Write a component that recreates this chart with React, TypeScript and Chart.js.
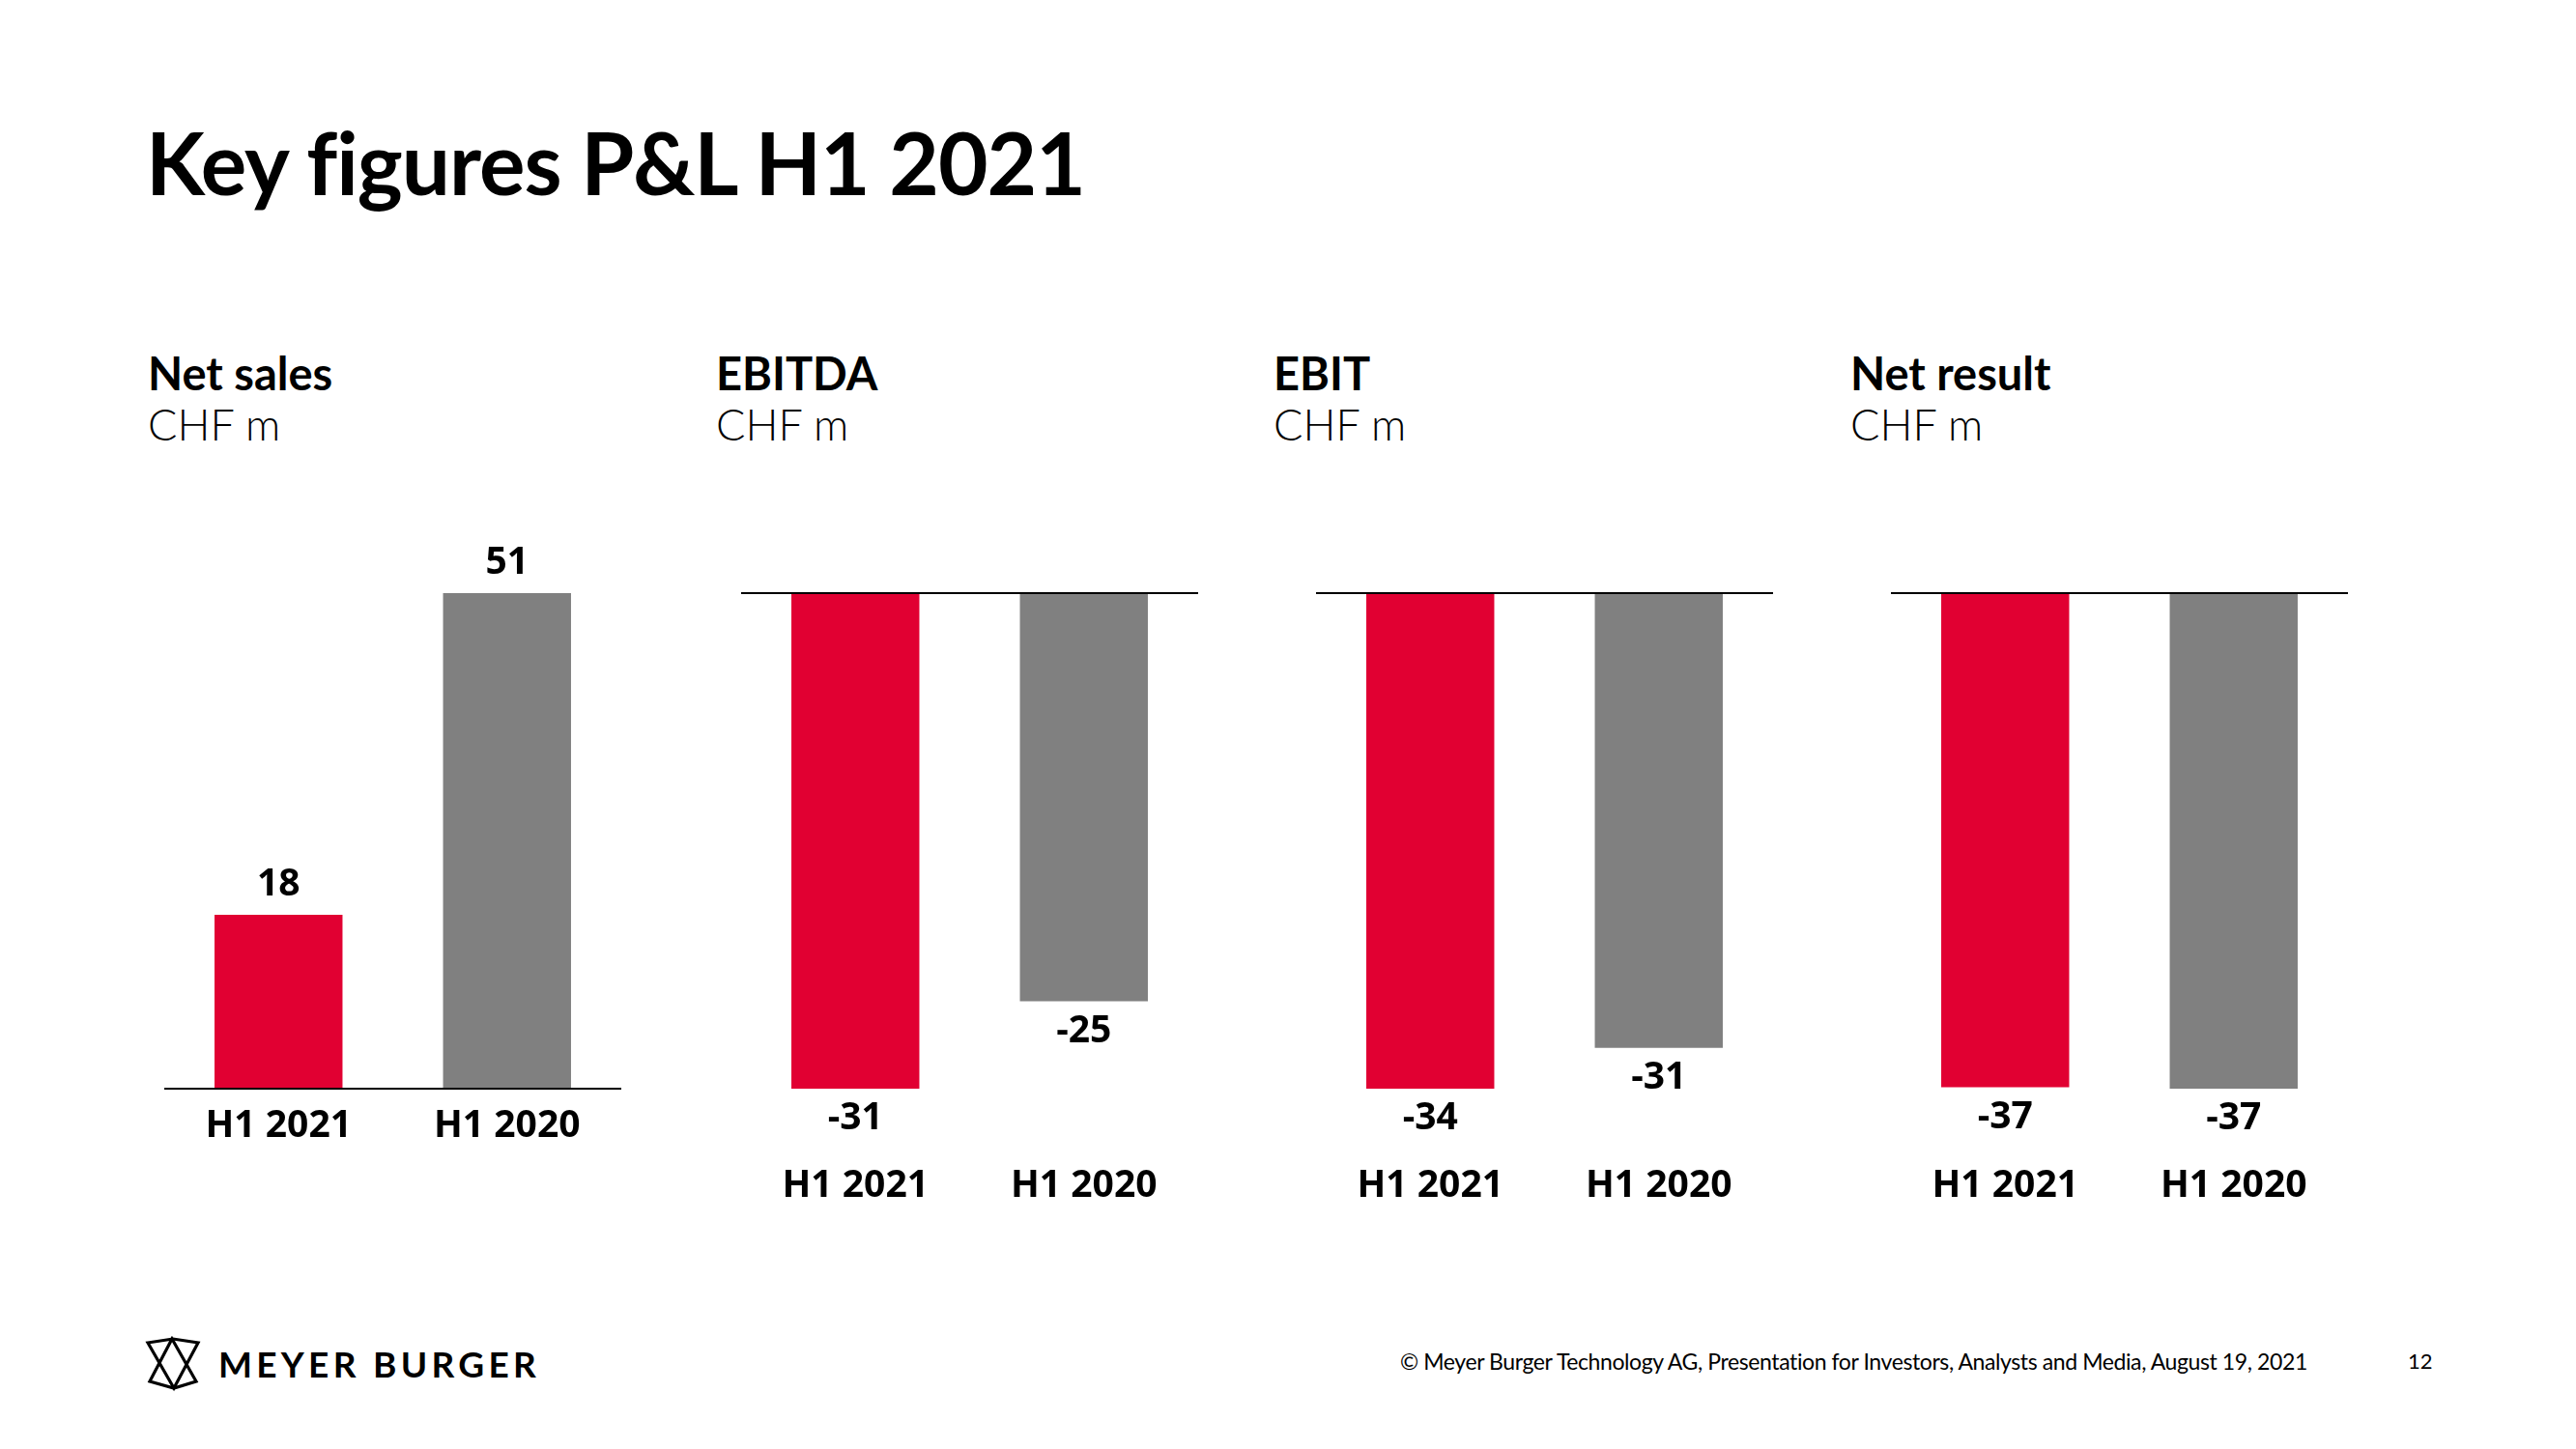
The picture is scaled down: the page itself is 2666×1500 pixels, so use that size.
import React, { useEffect, useRef } from "react";
import { Chart, registerables } from "chart.js";

Chart.register(...registerables);

// ---- Data ----
const categories = ["H1 2021", "H1 2020"];
const netSales = [17.9, 51.0];
const ebitda = [-30.6, -25.2];
const ebit = [-34.0, -31.2];
const netResult = [-36.9, -37.0];
const barColors = ["#E10032", "#808080"];

const pageTitle = "Key figures P&L H1 2021";
const panelTitles = ["Net sales", "EBITDA", "EBIT", "Net result"];
const unitLabel = "CHF m";
const footerText =
  "© Meyer Burger Technology AG, Presentation for Investors, Analysts and Media, August 19, 2021";
const pageNumber = "12";
const brandName = "MEYER BURGER";

const LABEL_FONT = "'Open Sans', 'DejaVu Sans', sans-serif";
const HEAD_FONT = "Lato, 'Open Sans', sans-serif";

const zeroLinePlugin = {
  id: "zeroLine",
  afterDatasetsDraw(chart: any) {
    const { ctx, chartArea } = chart;
    const y = chart.scales.y.getPixelForValue(0);
    ctx.save();
    ctx.strokeStyle = "#000000";
    ctx.lineWidth = 2;
    ctx.beginPath();
    ctx.moveTo(chartArea.left, y);
    ctx.lineTo(chartArea.right, y);
    ctx.stroke();
    ctx.restore();
  },
};

const valueLabelPlugin = {
  id: "valueLabels",
  afterDatasetsDraw(chart: any) {
    const ctx = chart.ctx;
    const meta = chart.getDatasetMeta(0);
    const vals = chart.data.datasets[0].data as number[];
    ctx.save();
    ctx.font = `700 39px ${LABEL_FONT}`;
    ctx.fillStyle = "#000000";
    ctx.textAlign = "center";
    ctx.textBaseline = "middle";
    meta.data.forEach((bar: any, i: number) => {
      const v = vals[i];
      const y = v >= 0 ? bar.y - 31 : bar.y + 31;
      ctx.fillText(String(Math.round(v)), bar.x, y);
    });
    ctx.restore();
  },
};

type PanelProps = {
  values: number[];
  left: number;
  tickGap: number;
};

function BarPanel({ values, left, tickGap }: PanelProps) {
  const ref = useRef<HTMLCanvasElement | null>(null);
  useEffect(() => {
    if (!ref.current) return;
    const minV = Math.min(0, ...values);
    const maxV = Math.max(0, ...values);
    const chart = new Chart(ref.current, {
      type: "bar",
      data: {
        labels: categories,
        datasets: [
          {
            data: values,
            backgroundColor: barColors,
            borderWidth: 0,
            barPercentage: 0.56,
            categoryPercentage: 1,
          },
        ],
      },
      options: {
        animation: false,
        responsive: false,
        maintainAspectRatio: false,
        layout: { padding: { top: 94, left: 0, right: 0, bottom: 0 } },
        plugins: {
          legend: { display: false },
          tooltip: { enabled: false },
          title: { display: false },
        },
        scales: {
          x: {
            position: "bottom",
            grid: { display: false, drawTicks: true, tickLength: tickGap },
            border: { display: false },
            ticks: {
              color: "#000000",
              padding: 15,
              font: { family: LABEL_FONT, size: 39, weight: "bold", lineHeight: 1.2 },
              maxRotation: 0,
            },
            afterFit: (scale: any) => {
              scale.height = 140;
            },
          },
          y: {
            display: false,
            min: minV,
            max: maxV,
          },
        },
      },
      plugins: [zeroLinePlugin, valueLabelPlugin],
    });
    return () => chart.destroy();
  }, [values, left, tickGap]);

  return (
    <canvas
      ref={ref}
      width={473}
      height={747}
      style={{ position: "absolute", left, top: 520, width: 473, height: 747 }}
    />
  );
}

function PanelHeader({ title, left }: { title: string; left: number }) {
  return (
    <>
      <div
        style={{
          position: "absolute",
          left,
          top: 363,
          fontFamily: HEAD_FONT,
          fontWeight: 700,
          fontSize: 47,
          lineHeight: 1,
          color: "#000",
          whiteSpace: "nowrap",
        }}
      >
        {title}
      </div>
      <div
        style={{
          position: "absolute",
          left,
          top: 417,
          fontFamily: HEAD_FONT,
          fontWeight: 300,
          fontSize: 45,
          lineHeight: 1,
          color: "#000",
          whiteSpace: "nowrap",
        }}
      >
        {unitLabel}
      </div>
    </>
  );
}

function Logo() {
  return (
    <svg
      width={60}
      height={58}
      viewBox="0 0 60 58"
      style={{ position: "absolute", left: 149, top: 1383 }}
    >
      <polygon points="4,7 30,3 56,7 31,54" fill="none" stroke="#000" strokeWidth={3.2} strokeLinejoin="miter" />
      <polygon points="6,47 29,3 54,47 31,54" fill="none" stroke="#000" strokeWidth={3.2} strokeLinejoin="miter" />
    </svg>
  );
}

export default function App() {
  const panelLefts = [170, 767, 1362, 1957];
  const headerLefts = [153, 741, 1318, 1915];
  const series = [netSales, ebitda, ebit, netResult];
  const gaps = [0, 62, 62, 62];
  return (
    <div
      style={{
        position: "absolute",
        left: 0,
        top: 0,
        width: 2666,
        height: 1500,
        background: "#ffffff",
        overflow: "hidden",
      }}
    >
      <div
        style={{
          position: "absolute",
          left: 151,
          top: 123,
          fontFamily: HEAD_FONT,
          fontWeight: 700,
          fontSize: 89,
          lineHeight: 1,
          color: "#000",
          whiteSpace: "nowrap",
          letterSpacing: -1,
        }}
      >
        {pageTitle}
      </div>
      {panelTitles.map((t, i) => (
        <PanelHeader key={t} title={t} left={headerLefts[i]} />
      ))}
      {series.map((s, i) => (
        <BarPanel key={i} values={s} left={panelLefts[i]} tickGap={gaps[i]} />
      ))}
      <Logo />
      <div
        style={{
          position: "absolute",
          left: 226,
          top: 1393,
          fontFamily: HEAD_FONT,
          fontWeight: 700,
          fontSize: 37,
          lineHeight: 1,
          letterSpacing: 4.3,
          color: "#000",
          whiteSpace: "nowrap",
        }}
      >
        {brandName}
      </div>
      <div
        style={{
          position: "absolute",
          left: 1449,
          top: 1398,
          fontFamily: HEAD_FONT,
          fontWeight: 400,
          fontSize: 23,
          lineHeight: 1,
          color: "#000",
          whiteSpace: "nowrap",
          letterSpacing: -0.4,
        }}
      >
        {footerText}
      </div>
      <div
        style={{
          position: "absolute",
          left: 2492,
          top: 1398,
          fontFamily: HEAD_FONT,
          fontWeight: 400,
          fontSize: 22,
          lineHeight: 1,
          color: "#000",
          whiteSpace: "nowrap",
        }}
      >
        {pageNumber}
      </div>
    </div>
  );
}
